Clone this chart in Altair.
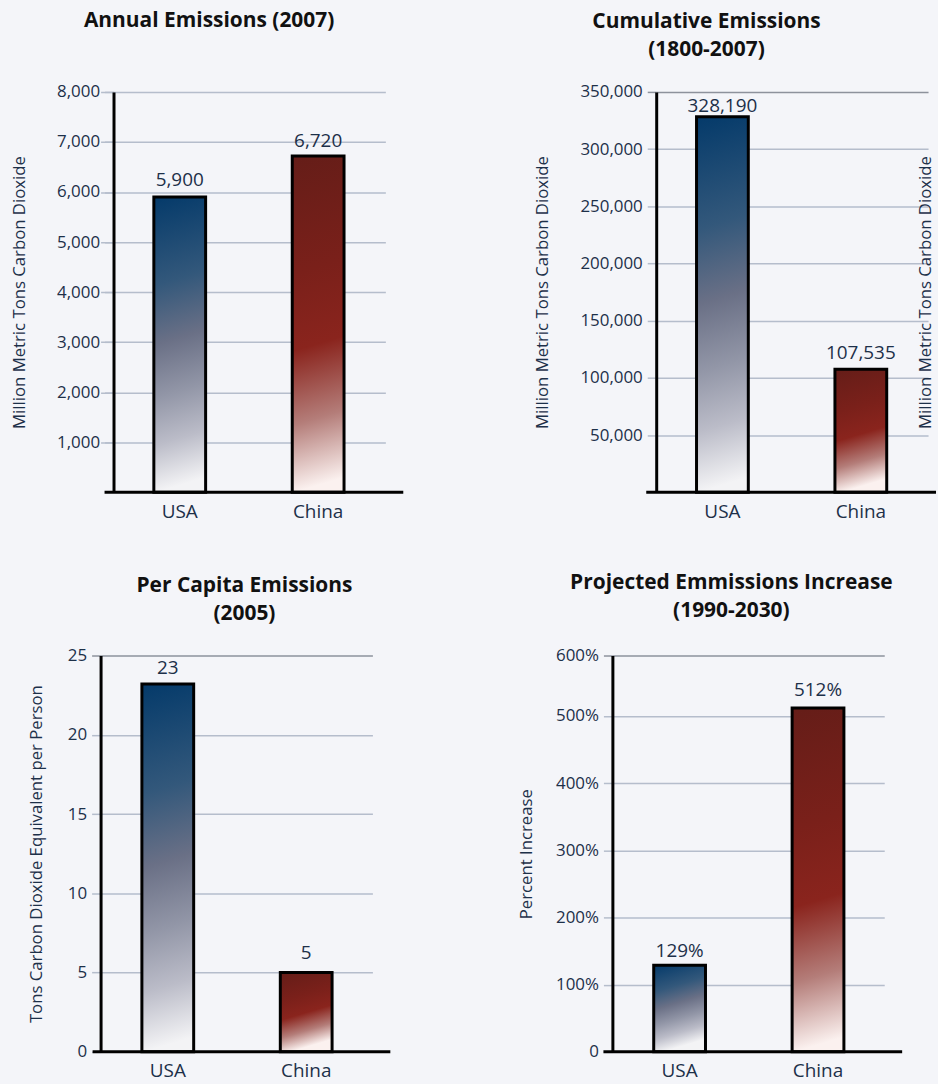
import altair as alt
import pandas as pd

# ---------------- data ----------------
COUNTRIES = ["USA", "China"]

ANNUAL = [5900, 6720]
ANNUAL_LABELS = ["5,900", "6,720"]
ANNUAL_TICKS = [1000, 2000, 3000, 4000, 5000, 6000, 7000, 8000]

CUMULATIVE = [328190, 107535]
CUMULATIVE_LABELS = ["328,190", "107,535"]
CUMULATIVE_TICKS = [50000, 100000, 150000, 200000, 250000, 300000, 350000]

PER_CAPITA = [23.2, 5.0]
PER_CAPITA_LABELS = ["23", "5"]
PER_CAPITA_TICKS = [0, 5, 10, 15, 20, 25]

PROJECTED = [129, 512]
PROJECTED_LABELS = ["129%", "512%"]
PROJECTED_TICKS = [0, 100, 200, 300, 400, 500, 590]
PROJECTED_TICK_LABELS = ["0", "100%", "200%", "300%", "400%", "500%", "600%"]

# ---------------- style ----------------
FONT = "Open Sans"
TEXT = "#1d3049"
GRID = "#b5bdcc"
TOPLINE = "#8d929c"
BG = "#f4f5f9"
STEP = 139
BAR_W = 52

STOPS = {
    "USA": [("#043a6a", 0), ("#33587b", 0.3), ("#6a7086", 0.5),
            ("#9296a7", 0.68), ("#bbbcc8", 0.84), ("#f3f3f5", 1)],
    "China": [("#651d18", 0), ("#7a201a", 0.35), ("#8a241d", 0.58),
              ("#b47d79", 0.8), ("#fbf1ef", 1)],
}


def gradient(country, bar_h, slope=0.3):
    # keep the diagonal of the shading at a similar on-screen angle for every bar
    a = slope * BAR_W / max(bar_h, 1)
    return alt.LinearGradient(
        gradient="linear", x1=0, y1=0, x2=a, y2=1,
        stops=[alt.GradientStop(color=c, offset=o) for c, o in STOPS[country]])


def chained_expr(ticks, labels):
    expr = "''"
    for t, l in reversed(list(zip(ticks, labels))):
        expr = f"datum.value == {t} ? '{l}' : ({expr})"
    return expr


def band_scale(width, left_gap):
    pi = 1 - BAR_W / STEP
    leftover = width - STEP * (2 - pi)
    return alt.Scale(domain=COUNTRIES, paddingInner=pi,
                     paddingOuter=leftover / (2 * STEP),
                     align=left_gap / leftover)


def panel(values, labels, ymax, ticks, title, ytitle, title_dx, title_offset,
          width, height, left_gap, ytitle_pad, label_gaps, dark_top,
          base_from, base_to, axis_offset=0, tick_labels=None, right_title=None):
    df = pd.DataFrame({"country": COUNTRIES, "value": values, "label": labels})
    xscale = band_scale(width, left_gap)
    yscale = alt.Scale(domain=[0, ymax], nice=False, zero=True)

    grid_color = ({"condition": {"test": f"datum.value >= {ymax}", "value": TOPLINE},
                   "value": GRID} if dark_top else GRID)
    label_expr = (chained_expr(ticks, tick_labels) if tick_labels
                  else "format(datum.value, ',')")
    yaxis = alt.Axis(
        values=ticks, title=ytitle, grid=True, gridColor=grid_color, gridWidth=1.5,
        tickColor=grid_color, tickSize=9, tickWidth=1.5, offset=axis_offset,
        domainColor="black", domainWidth=3, labelExpr=label_expr,
        labelFont=FONT, labelFontSize=17, labelColor=TEXT, labelPadding=5,
        titleFont=FONT, titleFontSize=16.8, titleFontWeight="normal",
        titleColor=TEXT, titlePadding=ytitle_pad,
    )
    xaxis = alt.Axis(title=None, domain=False, ticks=False, labelAngle=0,
                     labelFont=FONT, labelFontSize=19, labelColor=TEXT,
                     labelPadding=10)

    X = alt.X("country:N", scale=xscale, axis=xaxis)
    Y = alt.Y("value:Q", scale=yscale, axis=yaxis)

    base = alt.Chart(df)
    layers = []
    for c, v in zip(COUNTRIES, values):
        layers.append(
            base.transform_filter(f"datum.country == '{c}'")
            .mark_bar(color=gradient(c, v / ymax * height), stroke="black",
                      strokeWidth=3)
            .encode(x=X, y=Y)
        )
    for c, gap in zip(COUNTRIES, label_gaps):
        layers.append(
            base.transform_filter(f"datum.country == '{c}'")
            .mark_text(dy=-gap, baseline="alphabetic", font=FONT,
                       fontSize=19, color=TEXT)
            .encode(x=X, y=Y, text="label:N")
        )
    layers.append(
        base.transform_filter("datum.country == 'USA'")
        .mark_rule(color="black", strokeWidth=3)
        .encode(x=alt.value(base_from), x2=alt.value(base_to),
                y=alt.YDatum(0, axis=yaxis))
    )
    ch = alt.layer(*layers)
    if right_title:
        raxis = alt.Axis(orient="right", title=right_title, labels=False, ticks=False,
                         domain=False, grid=False, offset=6, titlePadding=0,
                         titleAngle=270, titleFont=FONT, titleFontSize=16.8,
                         titleFontWeight="normal", titleColor=TEXT)
        ghost = (base.mark_text(opacity=0, text=" ")
                 .encode(x=X, y=alt.Y("value:Q", axis=raxis)))
        ch = alt.layer(ch, ghost).resolve_axis(y="independent")
    return ch.properties(
        width=width, height=height,
        title=alt.TitleParams(text=title, font=FONT, fontSize=21, fontWeight="bold",
                              color="#111111", anchor="middle", frame="group",
                              dx=title_dx, offset=title_offset, lineHeight=28),
    )


p1 = panel(ANNUAL, ANNUAL_LABELS, 8000, ANNUAL_TICKS,
           ["Annual Emissions (2007)"], "Million Metric Tons Carbon Dioxide",
           title_dx=-34, title_offset=52.5, width=286, height=402, left_gap=53.5,
           ytitle_pad=28, label_gaps=(11, 9), dark_top=False, base_from=4,
           base_to=304, axis_offset=-13)
p2 = panel(CUMULATIVE, CUMULATIVE_LABELS, 350000, CUMULATIVE_TICKS,
           ["Cumulative Emissions", "(1800-2007)"], "Million Metric Tons Carbon Dioxide",
           title_dx=-86, title_offset=23.5, width=273, height=402, left_gap=40.5,
           ytitle_pad=28, label_gaps=(5, 10), dark_top=True, base_from=-10,
           base_to=281, right_title="Million Metric Tons Carbon Dioxide")
p3 = panel(PER_CAPITA, PER_CAPITA_LABELS, 25, PER_CAPITA_TICKS,
           ["Per Capita Emissions", "(2005)"], "Tons Carbon Dioxide Equivalent per Person",
           title_dx=8, title_offset=23, width=273, height=398, left_gap=41.5,
           ytitle_pad=22, label_gaps=(10, 14), dark_top=True, base_from=-8, base_to=291)
p4 = panel(PROJECTED, PROJECTED_LABELS, 590, PROJECTED_TICKS,
           ["Projected Emmissions Increase", "(1990-2030)"], "Percent Increase",
           title_dx=-17, title_offset=26, width=273, height=398, left_gap=41.5,
           ytitle_pad=20, label_gaps=(8, 12), dark_top=True, base_from=-9, base_to=291,
           tick_labels=PROJECTED_TICK_LABELS)

row1 = alt.hconcat(p1, p2, spacing=272, bounds="flush")
row2 = alt.hconcat(p3, p4, spacing=241, bounds="flush")

chart = (
    alt.vconcat(row1, row2, spacing=566, bounds="flush")
    .properties(padding={"left": 11, "top": 7, "right": 0, "bottom": 1})
    .configure(background=BG)
    .configure_view(stroke=None)
)

chart.save("out.html", embed_options={"renderer": "svg", "actions": False})
